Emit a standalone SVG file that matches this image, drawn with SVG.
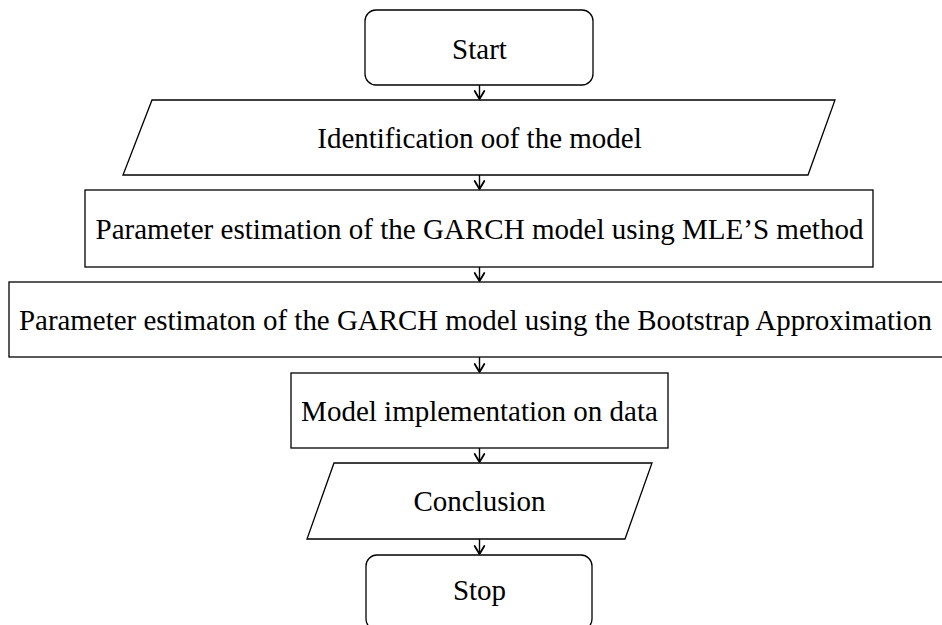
<svg xmlns="http://www.w3.org/2000/svg" width="942" height="625" viewBox="0 0 942 625">
  <style>
    .shape { fill: #ffffff; stroke: #000000; stroke-width: 1.3; }
    .label { font-family: "Liberation Serif", "Times New Roman", serif; font-size: 29px; fill: #000000; text-anchor: middle; }
    .flow { stroke: #000000; stroke-width: 1.4; fill: none; }
  </style>
  <defs>
    <marker id="arrow" markerUnits="userSpaceOnUse" viewBox="-10 -8 12 16" refX="0" refY="0" markerWidth="12" markerHeight="16" orient="auto">
      <path d="M -8,-4.8 Q -2.5,-1.6 0,0 Q -2.5,1.6 -8,4.8" fill="none" stroke="#000000" stroke-width="1.8" stroke-linecap="round" stroke-linejoin="round"/>
    </marker>
  </defs>

  <rect width="942" height="625" fill="#ffffff"/>

  <g id="connectors">
    <line class="flow" x1="479.5" y1="85" x2="479.5" y2="99" marker-end="url(#arrow)"/>
    <line class="flow" x1="479.5" y1="175" x2="479.5" y2="189" marker-end="url(#arrow)"/>
    <line class="flow" x1="479.5" y1="267" x2="479.5" y2="281" marker-end="url(#arrow)"/>
    <line class="flow" x1="479.5" y1="357" x2="479.5" y2="372" marker-end="url(#arrow)"/>
    <line class="flow" x1="479.5" y1="448" x2="479.5" y2="462" marker-end="url(#arrow)"/>
    <line class="flow" x1="479.5" y1="539" x2="479.5" y2="554" marker-end="url(#arrow)"/>
  </g>

  <g id="start">
    <rect class="shape" x="365" y="10" width="228" height="75" rx="11" ry="11"/>
    <text class="label" x="479.5" y="59">Start</text>
  </g>

  <g id="identification">
    <polygon class="shape" points="152,100 835,100 808,175 123,175"/>
    <text class="label" x="479.5" y="148">Identification oof the model</text>
  </g>

  <g id="mle-estimation">
    <rect class="shape" x="85" y="190" width="788" height="77"/>
    <text class="label" x="479.5" y="239" textLength="768" lengthAdjust="spacingAndGlyphs">Parameter estimation of the GARCH model using MLE’S method</text>
  </g>

  <g id="bootstrap-estimation">
    <rect class="shape" x="9" y="282" width="941" height="75"/>
    <text class="label" x="475.5" y="330" textLength="913" lengthAdjust="spacingAndGlyphs">Parameter estimaton of the GARCH model using the Bootstrap Approximation</text>
  </g>

  <g id="implementation">
    <rect class="shape" x="291" y="373" width="377" height="75"/>
    <text class="label" x="479.5" y="421">Model implementation on data</text>
  </g>

  <g id="conclusion">
    <polygon class="shape" points="334,463 652,463 625,539 307,539"/>
    <text class="label" x="479.5" y="511">Conclusion</text>
  </g>

  <g id="stop">
    <rect class="shape" x="366" y="555" width="226" height="75" rx="11" ry="11"/>
    <text class="label" x="479.5" y="600">Stop</text>
  </g>
</svg>
